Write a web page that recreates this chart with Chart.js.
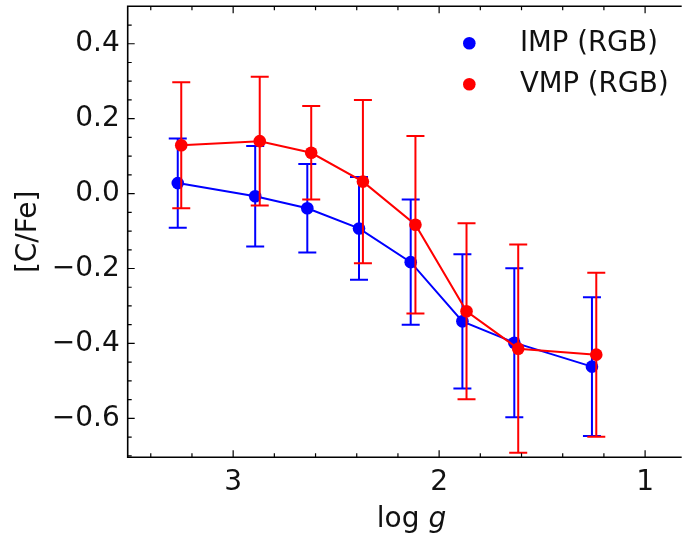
<!DOCTYPE html>
<html>
<head>
<meta charset="utf-8">
<script src="https://cdn.jsdelivr.net/npm/chart.js@4/dist/chart.umd.min.js"></script>
<style>
  html, body { margin: 0; padding: 0; background: #fff; }
  #wrap { width: 686px; height: 534px; }
</style>
</head>
<body>
<div id="wrap"><canvas id="cfeChart" width="686" height="534"></canvas></div>
<script>
// IMP (RGB) sample
const impLogg = [3.269, 2.893, 2.640, 2.389, 2.138, 1.887, 1.635, 1.258];
const impCFe  = [0.028, -0.007, -0.039, -0.093, -0.183, -0.341, -0.398, -0.462];
const impErr  = [0.119, 0.134, 0.118, 0.137, 0.167, 0.179, 0.199, 0.185];

// VMP (RGB) sample
const vmpLogg = [3.252, 2.871, 2.621, 2.370, 2.115, 1.867, 1.616, 1.237];
const vmpCFe  = [0.129, 0.140, 0.109, 0.032, -0.083, -0.314, -0.414, -0.430];
const vmpErr  = [0.168, 0.172, 0.125, 0.218, 0.237, 0.235, 0.278, 0.219];

const xTicks = [1, 2, 3];
const yTicks = [-0.6, -0.4, -0.2, 0.0, 0.2, 0.4];

const FONT = '"DejaVu Sans", sans-serif';

function toPoints(xs, ys) {
    return xs.map((x, i) => ({ x: x, y: ys[i] }));
}

function fmtTick(v) {
    return v.toFixed(1).replace('-', '\u2212');
}

function noPad(s) {
    s.paddingTop = 0; s.paddingBottom = 0;
    s.paddingLeft = 0; s.paddingRight = 0;
}

// error bars drawn just before each dataset so red sits over blue
const errorBars = {
    id: 'errorBars',
    beforeDatasetDraw(chart, args) {
        const ds = chart.data.datasets[args.index];
        if (!ds.errors) return;
        const xs = chart.scales.x, ys = chart.scales.y;
        const ctx = chart.ctx;
        ctx.save();
        ctx.strokeStyle = ds.borderColor;
        ctx.lineWidth = 2;
        ds.data.forEach((p, i) => {
            const px = xs.getPixelForValue(p.x);
            const top = ys.getPixelForValue(p.y + ds.errors[i]);
            const bot = ys.getPixelForValue(p.y - ds.errors[i]);
            ctx.beginPath();
            ctx.moveTo(px, top); ctx.lineTo(px, bot);
            ctx.moveTo(px - 9, top); ctx.lineTo(px + 9, top);
            ctx.moveTo(px - 9, bot); ctx.lineTo(px + 9, bot);
            ctx.stroke();
        });
        ctx.restore();
    }
};

// matplotlib-style frame with inward ticks, legend and axis titles
const frame = {
    id: 'frame',
    afterDraw(chart) {
        const ctx = chart.ctx;
        const a = chart.chartArea;
        const xs = chart.scales.x, ys = chart.scales.y;
        ctx.save();
        ctx.strokeStyle = '#000';
        ctx.lineWidth = 1.6;
        ctx.beginPath();
        ctx.moveTo(a.right + 2, a.top); ctx.lineTo(a.left, a.top);
        ctx.lineTo(a.left, a.bottom); ctx.lineTo(a.right + 2, a.bottom);
        ctx.stroke();

        ctx.lineWidth = 1.2;
        ctx.beginPath();
        for (let v = 0.8; v <= 3.6; v += 0.2) {
            const px = xs.getPixelForValue(v);
            if (px < a.left + 1 || px > a.right) continue;
            const major = Math.abs(v - Math.round(v)) < 1e-6;
            const len = major ? 7 : 4;
            ctx.moveTo(px, a.bottom); ctx.lineTo(px, a.bottom - len);
            ctx.moveTo(px, a.top); ctx.lineTo(px, a.top + len);
        }
        for (let k = -14; k <= 10; k++) {
            const v = k * 0.05;
            const py = ys.getPixelForValue(v);
            if (py < a.top + 1 || py > a.bottom - 1) continue;
            const len = (k % 4 === 0) ? 7 : 4;
            ctx.moveTo(a.left, py); ctx.lineTo(a.left + len, py);
        }
        ctx.stroke();

        // legend
        ctx.font = '27.5px ' + FONT;
        ctx.textBaseline = 'middle';
        ctx.textAlign = 'left';
        chart.data.datasets.forEach((ds, i) => {
            const ly = 43.3 + i * 41;
            ctx.fillStyle = ds.backgroundColor;
            ctx.beginPath();
            ctx.arc(469.3, ly, 6.3, 0, Math.PI * 2);
            ctx.fill();
            ctx.fillStyle = '#111';
            ctx.fillText(ds.label, 520, ly + 1);
        });

        // x title: log g (g italic)
        ctx.fillStyle = '#111';
        ctx.textBaseline = 'alphabetic';
        ctx.font = '28px ' + FONT;
        const w1 = ctx.measureText('log ').width;
        ctx.font = 'italic 28px ' + FONT;
        const w2 = ctx.measureText('g').width;
        const x0 = 411.5 - (w1 + w2) / 2;
        ctx.font = '28px ' + FONT;
        ctx.fillText('log ', x0, 527);
        ctx.font = 'italic 28px ' + FONT;
        ctx.fillText('g', x0 + w1, 527);

        // y title
        ctx.font = '28px ' + FONT;
        ctx.translate(28.5, (a.top + a.bottom) / 2);
        ctx.rotate(-Math.PI / 2);
        ctx.textAlign = 'center';
        ctx.textBaseline = 'middle';
        ctx.fillText('[C/Fe]', 0, 0);
        ctx.restore();
    }
};

new Chart(document.getElementById('cfeChart').getContext('2d'), {
    type: 'scatter',
    data: {
        datasets: [
            {
                label: 'IMP (RGB)',
                data: toPoints(impLogg, impCFe),
                errors: impErr,
                borderColor: '#0000ff',
                backgroundColor: '#0000ff',
                showLine: true,
                borderWidth: 2,
                pointRadius: 6.3,
                pointBorderWidth: 0,
                order: 1
            },
            {
                label: 'VMP (RGB)',
                data: toPoints(vmpLogg, vmpCFe),
                errors: vmpErr,
                borderColor: '#ff0000',
                backgroundColor: '#ff0000',
                showLine: true,
                borderWidth: 2,
                pointRadius: 6.3,
                pointBorderWidth: 0,
                order: 0
            }
        ]
    },
    options: {
        responsive: false,
        animation: false,
        events: [],
        layout: { padding: { top: 5.7, right: 0, bottom: 0, left: 0 } },
        plugins: {
            legend: { display: false },
            tooltip: { enabled: false }
        },
        scales: {
            x: {
                type: 'linear',
                reverse: true,
                min: 0.832,
                max: 3.512,
                afterFit: s => { s.height = 534 - 457.3; noPad(s); },
                afterBuildTicks: s => { s.ticks = xTicks.map(v => ({ value: v })); },
                grid: { display: false, drawTicks: false },
                border: { display: false },
                ticks: {
                    font: { family: FONT, size: 28 },
                    color: '#111',
                    padding: 9,
                    maxRotation: 0,
                    callback: v => String(v)
                }
            },
            y: {
                type: 'linear',
                min: -0.704,
                max: 0.5,
                afterFit: s => { s.width = 127.7; noPad(s); },
                afterBuildTicks: s => { s.ticks = yTicks.map(v => ({ value: v })); },
                grid: { display: false, drawTicks: false },
                border: { display: false },
                ticks: {
                    font: { family: FONT, size: 28 },
                    color: '#111',
                    padding: 8,
                    callback: v => fmtTick(v)
                }
            }
        }
    },
    plugins: [errorBars, frame]
});
</script>
</body>
</html>
